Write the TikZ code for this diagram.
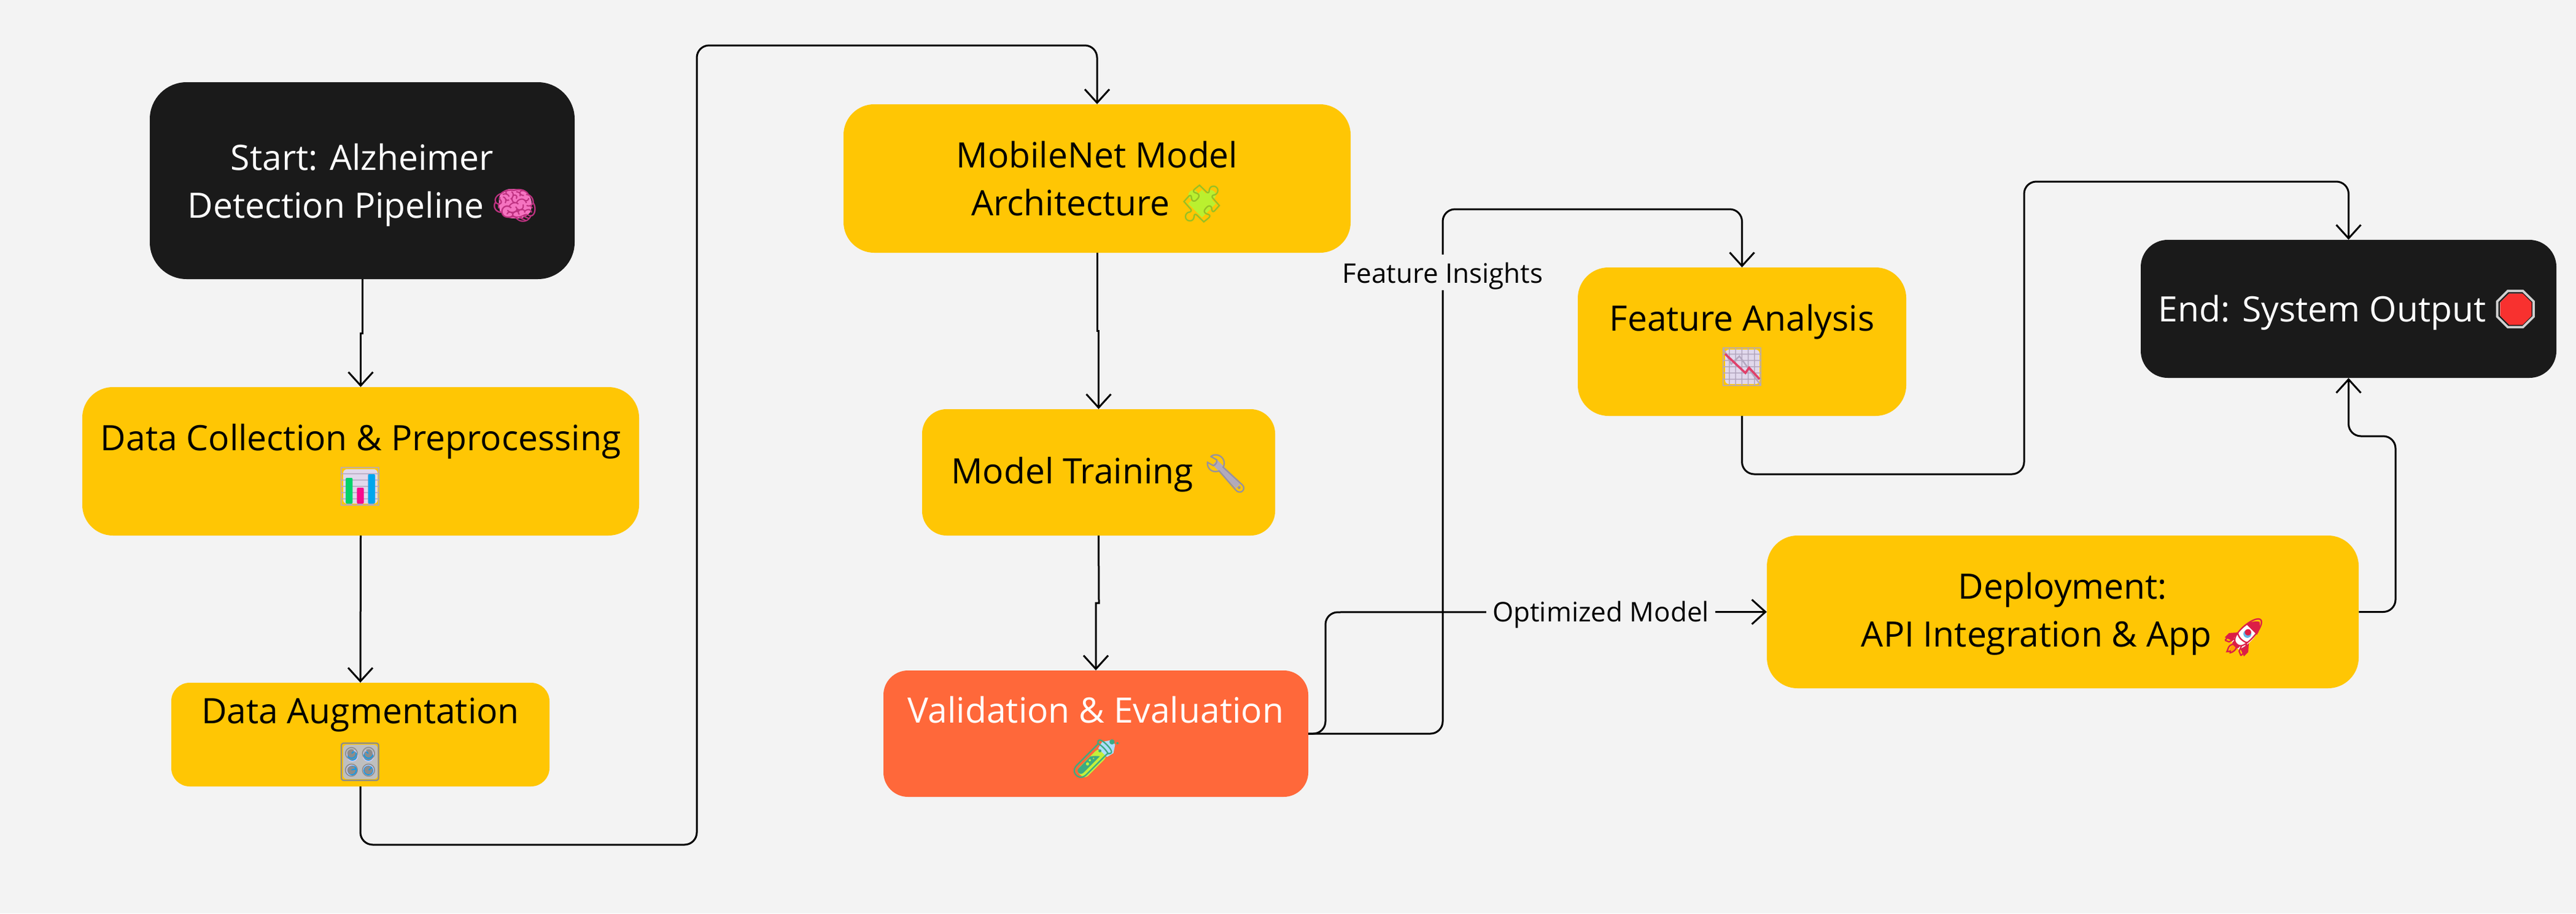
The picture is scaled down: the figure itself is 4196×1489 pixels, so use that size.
\documentclass[tikz,border=0pt]{standalone}
\usepackage{fontspec}
\setmainfont{Open Sans}
\newfontfamily\emojifont{Noto Emoji}
\usetikzlibrary{arrows.meta,calc}
\definecolor{bgc}{HTML}{F3F3F3}
\definecolor{darkbox}{HTML}{1A1A1A}
\definecolor{yellowbox}{HTML}{FFC604}
\definecolor{orangebox}{HTML}{FF683A}
\definecolor{gridc}{RGB}{180,168,192}
\definecolor{panelc}{RGB}{225,216,236}
\definecolor{limec}{RGB}{186,240,47}
\definecolor{wrenchc}{RGB}{178,170,186}
\definecolor{rocketred}{RGB}{220,30,70}
\newcommand\emospace{\hspace*{86pt}}
\tikzset{
  x=1pt,y=-1pt,
  boxbase/.style={rounded corners=#1,align=center,inner sep=0pt,font=\fontsize{57}{78}\selectfont},
  yel/.style={boxbase=50,fill=yellowbox,text=black},
  blk/.style={boxbase=60,fill=darkbox,text=white},
  org/.style={boxbase=40,fill=orangebox,text=white},
  conn/.style={draw=black,line width=3pt,rounded corners=20,-{Straight Barb[length=22pt,width=40pt,line width=3pt]}},
  lab/.style={fill=bgc,inner xsep=10pt,inner ysep=0pt,minimum height=58pt,font=\fontsize{44}{50}\selectfont,text=black},
  glyph/.style={inner sep=0pt,font=\fontsize{62}{62}\selectfont\emojifont}
}
\begin{document}
\begin{tikzpicture}
\fill[bgc] (0,0) rectangle (4196,1489);
\useasboundingbox (0,0) rectangle (4196,1489);

% boxes
\node[blk,minimum width=692pt,minimum height=321pt] (start) at (590,294.5) {\rule{0pt}{58pt}Start: Alzheimer\\Detection Pipeline\emospace};
\node[yel,minimum width=907pt,minimum height=242pt] (dc) at (587.5,752) {Data Collection \& Preprocessing\\\phantom{X}};
\node[yel,boxbase=30,fill=yellowbox,minimum width=616pt,minimum height=169pt] (aug) at (587,1197.5) {Data Augmentation\\\phantom{X}};
\node[yel,minimum width=826pt,minimum height=242pt] (mob) at (1787,291) {MobileNet Model\\Architecture\emospace};
\node[yel,boxbase=40,fill=yellowbox,minimum width=575pt,minimum height=206pt] (train) at (1789.5,770) {\rule{0pt}{50pt}Model Training\emospace};
\node[org,minimum width=692pt,minimum height=206pt] (val) at (1785,1196) {Validation \& Evaluation\\\phantom{X}};
\node[yel,minimum width=535pt,minimum height=242pt] (fa) at (2837.5,557) {Feature Analysis\\\phantom{X}};
\node[yel,minimum width=964pt,minimum height=249pt] (dep) at (3360,997.5) {\rule{0pt}{50pt}Deployment:\\API Integration \& App\emospace};
\node[blk,boxbase=44,fill=darkbox,minimum width=677pt,minimum height=225pt] (end) at (3825.5,503.5) {\rule{0pt}{56pt}End: System Output\emospace};

% waypoints
\coordinate (j1) at (590,543);
\coordinate (a1) at (587,1377);
\coordinate (a2) at (1135,1377);
\coordinate (a3) at (1135,74);
\coordinate (a4) at (1787,74);
\coordinate (j2) at (1787,539);
\coordinate (j3) at (1790,983);
\coordinate (o1) at (2159,998);
\coordinate (fi) at (2350,444);
\coordinate (f1) at (2350,341);
\coordinate (f2) at (2837.5,341);
\coordinate (g1) at (2837.5,773);
\coordinate (g2) at (3297,773);
\coordinate (g3) at (3297,296);
\coordinate (g4) at (3825.5,296);
\coordinate (h1) at (3902,997.5);
\coordinate (h2) at (3902,711);
\coordinate (h3) at (3825.5,711);

% connectors
\draw[conn,rounded corners=0] (start.south) -- (j1) -- (j1 -| dc.north) -- (dc.north);
\draw[conn] (dc.south) -- (aug.north);
\draw[conn] (aug.south) -- (a1) -- (a2) -- (a3) -- (a4) -- (mob.north);
\draw[conn,rounded corners=0] (mob.south) -- (j2) -- (j2 -| train.north) -- (train.north);
\draw[conn,rounded corners=0] (train.south) -- (j3) -- (j3 -| val.north) -- (val.north);
\draw[conn] (val.east) -| (o1) -- node[lab,pos=0.624,text depth=10pt,text height=42pt] (optlab) {Optimized Model} (dep.west);
\draw[conn] (val.east) -| (fi) node[lab,text depth=10pt,text height=44pt] (fealab) {Feature Insights} -- (f1) -- (f2) -- (fa.north);
\draw[conn] (fa.south) -- (g1) -- (g2) -- (g3) -- (g4) -- (end.north);
\draw[conn] (dep.east) -- (h1) -- (h2) -- (h3) -- (end.south);

% brain
\begin{scope}[shift={(839,335)}]
\fill[fill=magenta!55!white,rounded corners=14] (-29,-2) -- (-22,-27) -- (18,-27) -- (31,0) -- (18,22) -- (-20,20) -- cycle;
\node[glyph,text=magenta!75!black] (ibrain) at (0,0) {🧠};
\end{scope}
% bar chart
\begin{scope}[shift={(587,793)}]
\fill[panelc,rounded corners=6] (-28,-28) rectangle (28,28);
\node[glyph,text=gridc] (ichart) at (0,0) {📊};
\fill[rounded corners=2,fill={rgb,255:red,0;green,210;blue,106}] (-24,-14) rectangle (-12.6,28);
\fill[rounded corners=2,fill={rgb,255:red,247;green,10;blue,141}] (-5.7,2) rectangle (5.7,28);
\fill[rounded corners=2,fill={rgb,255:red,0;green,166;blue,237}] (12.6,-20) rectangle (24,28);
\end{scope}
% knobs
\begin{scope}[shift={(587,1242)}]
\fill[rounded corners=6,fill=black!25] (-28,-28) rectangle (28,28);
\foreach \px/\py in {-13/-10,13/-10,-13/14,13/14}{
  \fill[fill=white!80!blue] (\px,\py) circle (9.5);
  \fill[fill={rgb,255:red,15;green,155;blue,235}] (\px,\py) circle (8);
}
\node[glyph,text=black!45] (iknob) at (0,0) {🎛};
\end{scope}
% puzzle
\begin{scope}[shift={(1958,332)}]
\begin{scope}[rotate=45]
\fill[limec] (-16,-16) rectangle (16,16);
\fill[limec] (0,-20) circle (8) (20,0) circle (8);
\end{scope}
\node[glyph,text=limec!80!black] (ipuzzle) at (0,0) {🧩};
\end{scope}
% wrench
\begin{scope}[shift={(1997,772)}]
\draw[line width=11pt,color=wrenchc] (-18,-18) -- (20,20);
\node[glyph,text=wrenchc!85!black] (iwrench) at (0,0) {🔧};
\end{scope}
% test tube
\begin{scope}[shift={(1786,1237)}]
\begin{scope}[rotate=-45]
\fill[fill={rgb,255:red,195;green,239;blue,60},rounded corners=8] (-10,-16) rectangle (10,37);
\fill[fill={rgb,255:red,174;green,221;blue,255}] (-10,-14) -- (10,-14) -- (13,-26) -- (5,-38) -- (-5,-38) -- (-13,-26) -- cycle;
\end{scope}
\node[glyph,text={rgb,255:red,60;green,170;blue,130}] (itube) at (0,0) {🧪};
\end{scope}
% chart down
\begin{scope}[shift={(2838,598)}]
\fill[panelc,rounded corners=6] (-28,-28) rectangle (28,28);
\node[glyph,text=gridc] (idown) at (0,0) {📉};
\draw[line width=3.5pt,color={rgb,255:red,224;green,64;blue,106}] (-28,-21) -- (5,10) -- (11,1.5) -- (28,20);
\end{scope}
% rocket
\begin{scope}[shift={(3655,1039)}]
\begin{scope}[rotate=-45]
\fill[fill=orange!75!yellow] (-7,20) -- (7,20) -- (0,36) -- cycle;
\fill[rocketred] (-7,-5) -- (-22,12) -- (-22,22) -- (-6,16) -- cycle;
\fill[rocketred] (7,-5) -- (22,12) -- (22,22) -- (6,16) -- cycle;
\fill[fill=white] (0,-34) .. controls (16,-22) and (14,6) .. (8,20) -- (-8,20) .. controls (-14,6) and (-16,-22) .. (0,-34);
\fill[rocketred] (0,-36) .. controls (8,-30) and (11,-24) .. (12,-18) -- (-12,-18) .. controls (-11,-24) and (-8,-30) .. (0,-36);
\fill[fill={rgb,255:red,100;green,180;blue,230}] (0,-8) circle (6.5);
\end{scope}
\node[glyph,text=rocketred] (irocket) at (0,0) {🚀};
\end{scope}
% stop
\begin{scope}[shift={(4098,504)}]
\node[glyph,text=black!18] (istop) at (0,0) {🛑};
\fill[fill={rgb,255:red,248;green,49;blue,47}] (-11,-25.5) -- (11,-25.5) -- (25.5,-11) -- (25.5,11) -- (11,25.5) -- (-11,25.5) -- (-25.5,11) -- (-25.5,-11) -- cycle;
\end{scope}
\end{tikzpicture}
\end{document}
